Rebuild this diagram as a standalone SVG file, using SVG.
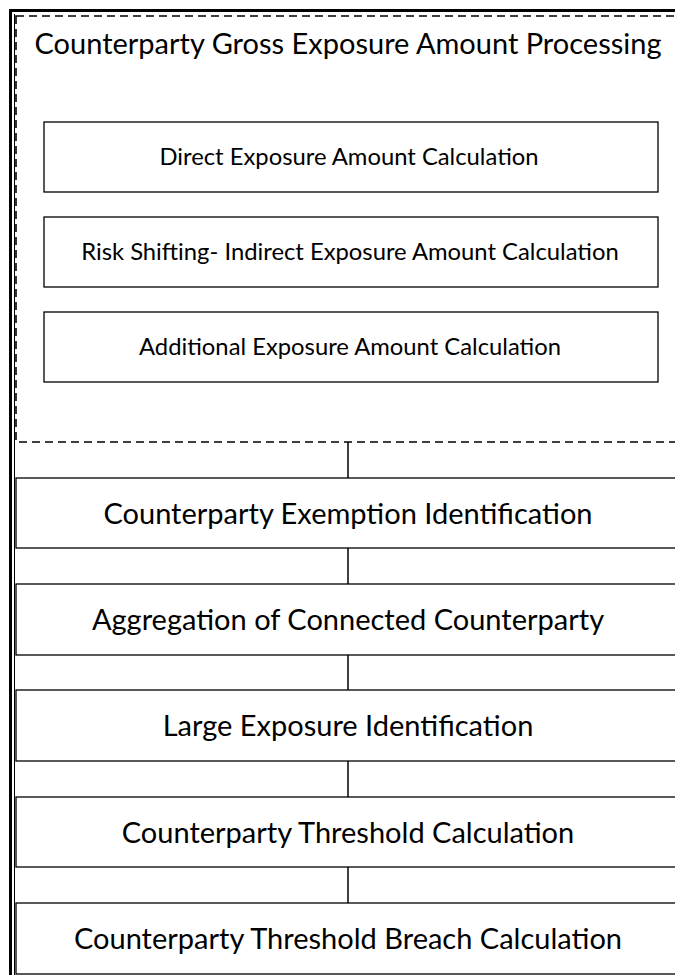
<svg xmlns="http://www.w3.org/2000/svg" width="675" height="975" viewBox="0 0 675 975">
<style>
.frame{fill:none;stroke:#000;stroke-width:3}
.thin{fill:none;stroke:#000;stroke-width:1}
.dash{fill:none;stroke:#000;stroke-width:1.6;stroke-dasharray:8 5}
.box{fill:#fff;stroke:#000;stroke-width:1.3}
.conn{stroke:#000;stroke-width:1.5;fill:none}
.t{font-family:Lato,"Open Sans","Liberation Sans",sans-serif;fill:#000;text-anchor:middle}
.big{font-size:29px}
.sm{font-size:23.8px}
</style>
<rect width="675" height="975" fill="#fff"/>
<g id="frame">
<path class="frame" d="M10.5 985 V10.5 H690"/>
<path class="thin" d="M14.5 14 V985"/>
</g>
<g id="group">
<rect class="dash" x="16" y="16" width="670" height="426"/>
<text class="t big" x="348" y="54">Counterparty Gross Exposure Amount Processing</text>
</g>
<g id="n1"><rect class="box" x="44" y="122" width="614" height="70"/><text class="t sm" x="349" y="165">Direct Exposure Amount Calculation</text></g>
<g id="n2"><rect class="box" x="44" y="217" width="614" height="70"/><text class="t sm" x="350" y="260">Risk Shifting- Indirect Exposure Amount Calculation</text></g>
<g id="n3"><rect class="box" x="44" y="312" width="614" height="70"/><text class="t sm" x="350" y="355">Additional Exposure Amount Calculation</text></g>
<g id="connectors">
<line class="conn" x1="348" y1="442" x2="348" y2="478"/>
<line class="conn" x1="348" y1="548" x2="348" y2="584"/>
<line class="conn" x1="348" y1="655" x2="348" y2="690"/>
<line class="conn" x1="348" y1="761" x2="348" y2="797"/>
<line class="conn" x1="348" y1="867" x2="348" y2="903"/>
</g>
<g id="b1"><rect class="box" x="16" y="478" width="670" height="70"/><text class="t big" x="348" y="524">Counterparty Exemption Identification</text></g>
<g id="b2"><rect class="box" x="16" y="584" width="670" height="71"/><text class="t big" x="348" y="630">Aggregation of Connected Counterparty</text></g>
<g id="b3"><rect class="box" x="16" y="690" width="670" height="71"/><text class="t big" x="348" y="736">Large Exposure Identification</text></g>
<g id="b4"><rect class="box" x="16" y="797" width="670" height="70"/><text class="t big" x="348" y="843">Counterparty Threshold Calculation</text></g>
<g id="b5"><rect class="box" x="16" y="903" width="670" height="71"/><text class="t big" x="348" y="949">Counterparty Threshold Breach Calculation</text></g>
</svg>
